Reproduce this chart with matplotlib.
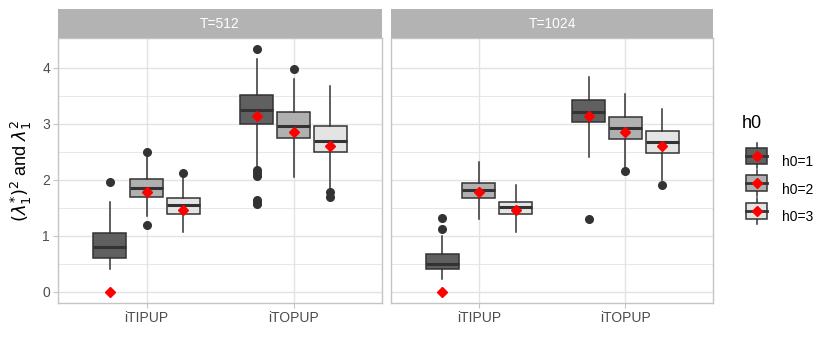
import matplotlib
matplotlib.use("Agg")
import matplotlib.pyplot as plt
from matplotlib.legend_handler import HandlerBase
from matplotlib.patches import Rectangle
from matplotlib.lines import Line2D

plt.rcParams["font.family"] = ["Liberation Sans", "DejaVu Sans"]

# ---------------------------------------------------------------------------
# Data
# ---------------------------------------------------------------------------
panels = ["T=512", "T=1024"]
methods = ["iTIPUP", "iTOPUP"]
groups = ["h0=1", "h0=2", "h0=3"]

# per panel -> per method -> per group: (whislo, q1, med, q3, whishi)
box_t512 = {
    "iTIPUP": [(0.41, 0.60, 0.80, 1.04, 1.60),
               (1.35, 1.69, 1.85, 2.01, 2.41),
               (1.07, 1.38, 1.54, 1.675, 2.05)],
    "iTOPUP": [(2.23, 3.00, 3.24, 3.52, 4.15),
               (2.05, 2.74, 2.96, 3.21, 3.79),
               (1.81, 2.49, 2.69, 2.96, 3.67)],
}
fliers_t512 = {
    "iTIPUP": [[1.95], [2.50, 1.18], [2.12]],
    "iTOPUP": [[4.33, 2.18, 2.12, 2.06, 1.63, 1.59, 1.57], [3.97], [1.78, 1.69]],
}
box_t1024 = {
    "iTIPUP": [(0.23, 0.41, 0.50, 0.67, 0.99),
               (1.30, 1.67, 1.81, 1.94, 2.32),
               (1.07, 1.38, 1.51, 1.60, 1.90)],
    "iTOPUP": [(2.41, 3.02, 3.21, 3.42, 3.83),
               (2.23, 2.72, 2.93, 3.11, 3.53),
               (1.99, 2.48, 2.68, 2.86, 3.26)],
}
fliers_t1024 = {
    "iTIPUP": [[1.32, 1.11], [], []],
    "iTOPUP": [[1.30], [2.16], [1.91]],
}
# red diamonds (same in both panels)
truth = {
    "iTIPUP": [0.0, 1.78, 1.45],
    "iTOPUP": [3.14, 2.85, 2.60],
}

y_ticks = [0, 1, 2, 3, 4]
y_minor = [0.5, 1.5, 2.5, 3.5]

fills = ["#606060", "#b0b0b0", "#e4e4e4"]
edge = "#333333"
grid_col = "#e3e3e3"
border_col = "#c4c4c4"
dodge = [-0.25, 0.0, 0.25]
box_w = 0.225


class BoxKeyHandler(HandlerBase):
    """Legend key: small boxplot glyph with a red diamond."""

    def create_artists(self, legend, orig_handle, xd, yd, width, height, fontsize, trans):
        fc = orig_handle.get_facecolor()
        cx = xd + width / 2
        cy = yd + height / 2
        bw, bh = width * 0.95, height * 1.05
        arts = [
            Line2D([cx, cx], [cy - height * 0.85, cy + height * 0.85], color=edge, lw=1.1),
            Rectangle((cx - bw / 2, cy - bh / 2), bw, bh, facecolor=fc, edgecolor=edge, lw=1.1),
            Line2D([cx - bw / 2, cx + bw / 2], [cy, cy], color=edge, lw=2.0),
            Line2D([cx], [cy], marker="D", color="red", markersize=5, linestyle="none"),
        ]
        for a in arts:
            a.set_transform(trans)
        return arts


fig = plt.figure(figsize=(8.3, 3.56), dpi=100)
ax_pos = [(0.0703, 0.1497, 0.3896, 0.7436), (0.4711, 0.1497, 0.3884, 0.7436)]
strip_h = 28.7 / 356

for p, (label, boxes, fliers) in enumerate(zip(panels, [box_t512, box_t1024], [fliers_t512, fliers_t1024])):
    ax = fig.add_axes(ax_pos[p])
    for mi, m in enumerate(methods):
        for gi in range(len(groups)):
            lo, q1, med, q3, hi = boxes[m][gi]
            stats = [{"whislo": lo, "q1": q1, "med": med, "q3": q3, "whishi": hi,
                      "fliers": fliers[m][gi]}]
            pos = mi + 1 + dodge[gi]
            ax.bxp(stats, positions=[pos], widths=box_w, patch_artist=True,
                   showcaps=False, manage_ticks=False,
                   boxprops=dict(facecolor=fills[gi], edgecolor=edge, linewidth=1.1),
                   medianprops=dict(color=edge, linewidth=2.2),
                   whiskerprops=dict(color=edge, linewidth=1.1),
                   flierprops=dict(marker="o", markerfacecolor=edge, markeredgecolor=edge,
                                   markersize=5.5),
                   zorder=3)
            ax.plot([pos], [truth[m][gi]], marker="D", color="red", markersize=5,
                    linestyle="none", zorder=5)

    ax.set_xlim(0.4, 2.6)
    ax.set_ylim(-0.2, 4.53)
    ax.set_xticks([1, 2])
    ax.set_xticklabels(methods)
    ax.set_yticks(y_ticks)
    ax.set_yticks(y_minor, minor=True)
    ax.grid(which="major", color=grid_col, linewidth=1.0, zorder=0)
    ax.grid(which="minor", axis="y", color=grid_col, linewidth=0.6, zorder=0)
    ax.set_axisbelow(True)
    ax.tick_params(axis="both", which="major", length=3.5, width=0.8, color=border_col,
                   labelsize=10, labelcolor="#4d4d4d", pad=2.5)
    ax.tick_params(which="minor", length=0)
    if p == 0:
        ax.set_ylabel(r"$(\lambda_1^{*})^2$ and $\lambda_1^2$", fontsize=13, labelpad=6)
    else:
        ax.set_yticklabels([])
        ax.tick_params(axis="y", length=0)
    for s in ax.spines.values():
        s.set_color(border_col)
        s.set_linewidth(1.0)

    # facet strip
    x0, y0, w, h = ax_pos[p]
    sax = fig.add_axes([x0, y0 + h, w, strip_h])
    sax.set_facecolor("#b3b3b3")
    sax.set_xticks([])
    sax.set_yticks([])
    for s in sax.spines.values():
        s.set_visible(False)
    sax.text(0.5, 0.5, label, color="white", fontsize=10, ha="center", va="center",
             transform=sax.transAxes)

handles = [Rectangle((0, 0), 1, 1, facecolor=f) for f in fills]
leg = fig.legend(handles, groups, handler_map={Rectangle: BoxKeyHandler()},
                 loc="upper left", bbox_to_anchor=(0.883, 0.603), frameon=False,
                 fontsize=10, handlelength=1.6, handleheight=1.3, labelspacing=0.9,
                 handletextpad=1.0)
fig.text(742 / 830, 1 - 123 / 356, "h0", fontsize=13, ha="left", va="center")

fig.savefig("out.png", dpi=100)
